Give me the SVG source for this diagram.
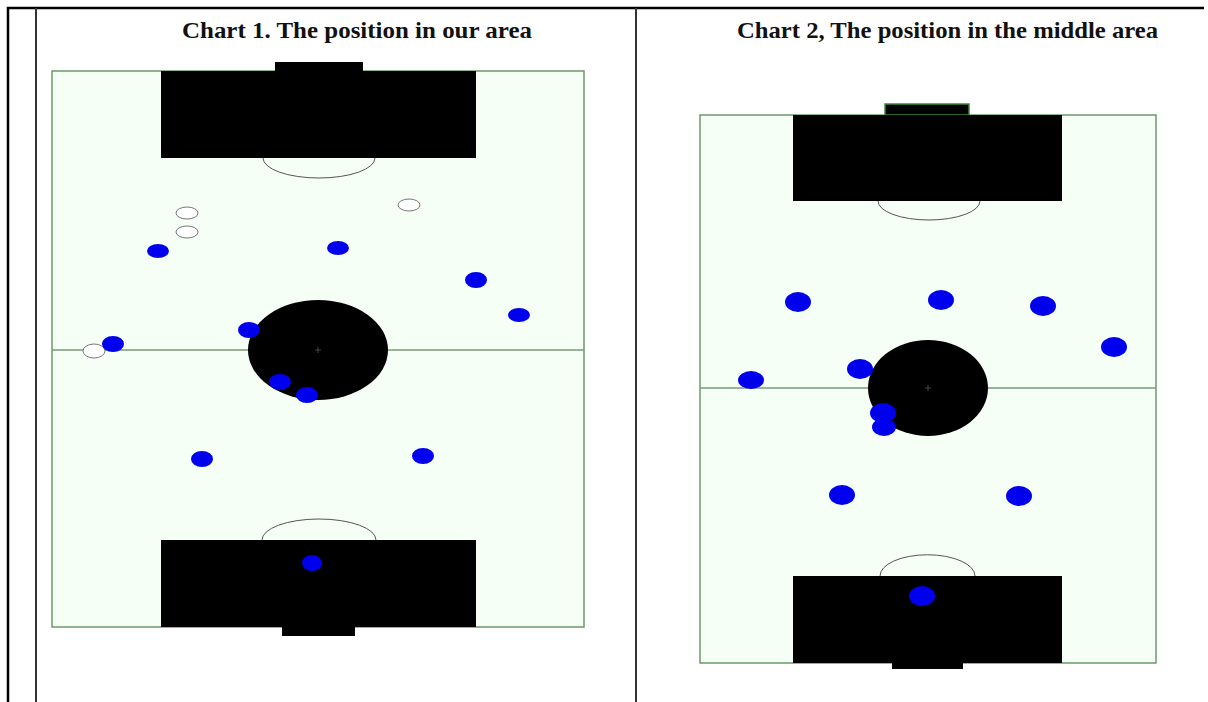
<svg xmlns="http://www.w3.org/2000/svg" width="1208" height="702" viewBox="0 0 1208 702">
<style>
.title{font-family:"Liberation Serif","DejaVu Serif",serif;font-weight:bold;font-size:24px;fill:#111}
.field{fill:#f5fff5;stroke:#6a9a6a;stroke-width:1.5}
.box{fill:#000}
.line{stroke:#7a9a7a;stroke-width:1.3;fill:none}
.arc{stroke:#555;stroke-width:1;fill:none}
.p{fill:#0000ee}
.o{fill:#fff;stroke:#777;stroke-width:1}
.frame{stroke:#000;stroke-width:2.5;fill:none}
.rule{stroke:#333;stroke-width:2;fill:none}
</style>
<rect width="1208" height="702" fill="#fff"/>
<g id="frame">
<path class="frame" d="M8 702 V8 H1204"/>
<line class="rule" x1="36" y1="8" x2="36" y2="702"/>
<line class="rule" x1="636" y1="8" x2="636" y2="702"/>
</g>
<g id="chart1">
<text class="title" x="182" y="38" textLength="350" lengthAdjust="spacingAndGlyphs">Chart 1. The position in our area</text>
<rect class="field" x="52" y="71" width="532" height="556"/>
<line class="line" x1="52" y1="350" x2="584" y2="350"/>
<rect class="box" x="275" y="62" width="88" height="10"/>
<rect class="box" x="161" y="71" width="315" height="87"/>
<path class="arc" d="M263 158 A56 20 0 0 0 375 158"/>
<rect class="box" x="161" y="540" width="315" height="87"/>
<rect class="box" x="282" y="627" width="73" height="9"/>
<path class="arc" d="M262 540 A57 21 0 0 1 376 540"/>
<ellipse class="box" cx="318" cy="350" rx="70" ry="50"/>
<path d="M315 350 H321 M318 347 V353" stroke="#555" stroke-width="0.8"/>
<g id="players1">
<ellipse class="o" cx="187" cy="213" rx="11" ry="6"/>
<ellipse class="o" cx="187" cy="232" rx="11" ry="6"/>
<ellipse class="o" cx="409" cy="205" rx="11" ry="6"/>
<ellipse class="o" cx="94" cy="351" rx="11" ry="7"/>
<ellipse class="p" cx="158" cy="251" rx="11" ry="7"/>
<ellipse class="p" cx="338" cy="248" rx="11" ry="7"/>
<ellipse class="p" cx="476" cy="280" rx="11" ry="8"/>
<ellipse class="p" cx="519" cy="315" rx="11" ry="7"/>
<ellipse class="p" cx="113" cy="344" rx="11" ry="8"/>
<ellipse class="p" cx="249" cy="330" rx="11" ry="8"/>
<ellipse class="p" cx="280" cy="382" rx="11" ry="8"/>
<ellipse class="p" cx="307" cy="395" rx="11" ry="8"/>
<ellipse class="p" cx="202" cy="459" rx="11" ry="8"/>
<ellipse class="p" cx="423" cy="456" rx="11" ry="8"/>
<ellipse class="p" cx="312" cy="563" rx="10" ry="8"/>
</g>
</g>
<g id="chart2">
<text class="title" x="737" y="38" textLength="421" lengthAdjust="spacingAndGlyphs">Chart 2, The position in the middle area</text>
<rect class="field" x="700" y="115" width="456" height="548"/>
<line class="line" x1="700" y1="388" x2="1156" y2="388"/>
<rect class="box" x="885" y="104" width="84" height="11" stroke="#3a8a3a" stroke-width="1.5"/>
<rect class="box" x="793" y="115" width="269" height="86"/>
<path class="arc" d="M878 201 A51 19 0 0 0 980 201"/>
<rect class="box" x="793" y="576" width="269" height="87"/>
<rect class="box" x="892" y="663" width="71" height="6"/>
<path class="arc" d="M880 576 A47 21 0 0 1 975 576"/>
<ellipse class="box" cx="928" cy="388" rx="60" ry="48"/>
<path d="M925 388 H931 M928 385 V391" stroke="#555" stroke-width="0.8"/>
<g id="players2">
<ellipse class="p" cx="798" cy="302" rx="13" ry="10"/>
<ellipse class="p" cx="941" cy="300" rx="13" ry="10"/>
<ellipse class="p" cx="1043" cy="306" rx="13" ry="10"/>
<ellipse class="p" cx="1114" cy="347" rx="13" ry="10"/>
<ellipse class="p" cx="751" cy="380" rx="13" ry="9"/>
<ellipse class="p" cx="860" cy="369" rx="13" ry="10"/>
<ellipse class="p" cx="883" cy="413" rx="13" ry="10"/>
<ellipse class="p" cx="884" cy="427" rx="12" ry="9"/>
<ellipse class="p" cx="842" cy="495" rx="13" ry="10"/>
<ellipse class="p" cx="1019" cy="496" rx="13" ry="10"/>
<ellipse class="p" cx="922" cy="596" rx="13" ry="10"/>
</g>
</g>
</svg>
